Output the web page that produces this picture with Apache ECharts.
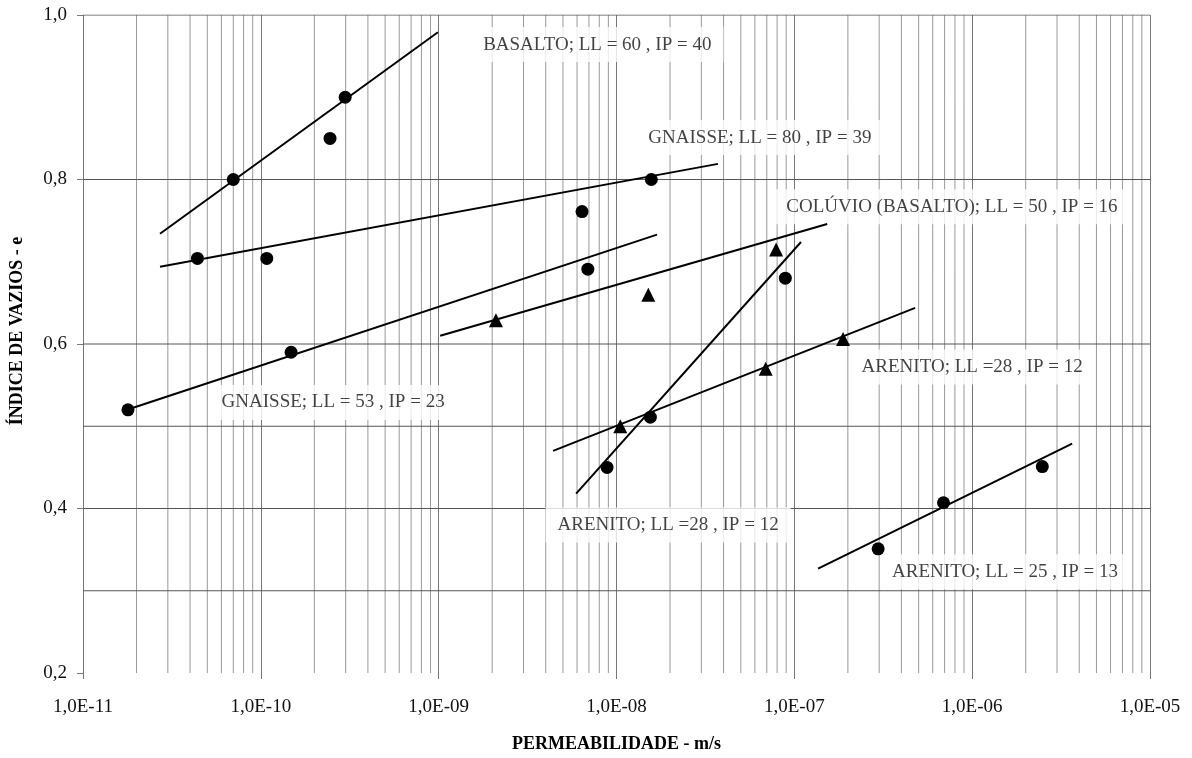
<!DOCTYPE html>
<html>
<head>
<meta charset="utf-8">
<script src="https://cdn.jsdelivr.net/npm/echarts@6/dist/echarts.min.js"></script>
<style>
html,body{margin:0;padding:0;background:#fff;}
#chart{width:1192px;height:758px;}
</style>
</head>
<body>
<div id="chart"></div>
<script>
// ---- data ----
const circlePoints = [
  [7.0e-11, 0.80], [2.98e-10, 0.90], [2.45e-10, 0.85],
  [4.4e-11, 0.704], [1.08e-10, 0.704],
  [6.4e-9, 0.761], [1.57e-8, 0.80],
  [6.9e-9, 0.691], [8.9e-8, 0.680],
  [1.48e-10, 0.590], [1.79e-11, 0.520],
  [8.85e-9, 0.450], [1.55e-8, 0.511],
  [2.96e-7, 0.351], [6.9e-7, 0.407], [2.48e-6, 0.451]
];
const trianglePoints = [
  [2.1e-9, 0.629], [1.51e-8, 0.660], [7.9e-8, 0.715],
  [1.05e-8, 0.500], [6.9e-8, 0.570], [1.88e-7, 0.606]
];
const basaltoLine   = [[2.71e-11, 0.734], [9.9e-10, 0.979]];
const gnaisse80Line = [[2.71e-11, 0.694], [3.72e-8, 0.819]];
const gnaisse53Line = [[1.77e-11, 0.520], [1.69e-8, 0.733]];
const coluvioLine   = [[1.02e-9, 0.610], [1.53e-7, 0.746]];
const arenitoSteepLine = [[5.93e-9, 0.418], [1.09e-7, 0.724]];
const arenito28Line = [[4.4e-9, 0.470], [4.78e-7, 0.644]];
const arenito25Line = [[1.36e-7, 0.327], [3.65e-6, 0.479]];

const annotationTexts = [
  'BASALTO; LL = 60 , IP = 40',
  'GNAISSE; LL = 80 , IP = 39',
  'COLÚVIO (BASALTO); LL = 50 , IP = 16',
  'ARENITO; LL =28 , IP = 12',
  'GNAISSE; LL = 53 , IP = 23',
  'ARENITO; LL =28 , IP = 12',
  'ARENITO; LL = 25 , IP = 13'
];
const annotationAnchors = [
  [7.8e-9, 0.964], [6.4e-8, 0.851], [7.7e-7, 0.767], [1.0e-6, 0.572],
  [2.55e-10, 0.529], [1.95e-8, 0.380], [1.53e-6, 0.323]
];

const xDecades = [1e-11, 1e-10, 1e-9, 1e-8, 1e-7, 1e-6, 1e-5];
const minorMultipliers = [2, 3, 4, 5, 6, 7, 8, 9];
const yGridValues = [0.3, 0.4, 0.5, 0.6, 0.8, 1.0];
const yRange = [0.2, 1.0];

// ---- build ----
const FONT = '"Liberation Serif", "DejaVu Serif", serif';
const minorX = [];
xDecades.slice(0, -1).forEach(d => minorMultipliers.forEach(m => minorX.push(m * d)));

const minorGridSeries = minorX.map(v => ({
  type: 'line', data: [[v, yRange[0]], [v, yRange[1]]], symbol: 'none', z: 1, silent: true,
  lineStyle: {color: '#999', width: 1}
}));
const hGridSeries = yGridValues.map(v => ({
  type: 'line', data: [[xDecades[0], v], [xDecades[xDecades.length - 1], v]], symbol: 'none', z: 1, silent: true,
  lineStyle: {color: '#555', width: 1}
}));

const lineSeries = [basaltoLine, gnaisse80Line, gnaisse53Line, coluvioLine,
  arenitoSteepLine, arenito28Line, arenito25Line].map(d => ({
  type: 'line', data: d, symbol: 'none', z: 5, silent: true,
  lineStyle: {color: '#000', width: 2}
}));

const option = {
  backgroundColor: '#fff',
  animation: false,
  grid: {left: 83, right: 42, top: 15, bottom: 81},
  xAxis: {
    type: 'log', logBase: 10, min: 1e-11, max: 1e-5,
    name: 'PERMEABILIDADE - m/s', nameLocation: 'middle', nameGap: 62,
    nameTextStyle: {fontFamily: FONT, fontWeight: 'bold', fontSize: 18, color: '#000'},
    axisLine: {show: false},
    axisTick: {show: true, length: 6, lineStyle: {color: '#777'}},
    axisLabel: {
      fontFamily: FONT, fontSize: 19, color: '#111', margin: 25,
      formatter: v => {
        const e = Math.round(Math.log10(v));
        const a = Math.abs(e);
        return '1,0E-' + (a < 10 ? '0' + a : a);
      }
    },
    splitLine: {show: true, lineStyle: {color: '#777', width: 1}}
  },
  yAxis: {
    type: 'value', min: 0.2, max: 1.0, interval: 0.2,
    name: 'ÍNDICE DE VAZIOS - e', nameLocation: 'middle', nameGap: 57,
    nameTextStyle: {fontFamily: FONT, fontWeight: 'bold', fontSize: 18, color: '#000', padding: [0, 0, 0, 26]},
    axisLine: {show: false},
    axisTick: {show: true, length: 6, lineStyle: {color: '#777'}},
    axisLabel: {
      fontFamily: FONT, fontSize: 19, color: '#111', margin: 16,
      formatter: v => v.toFixed(1).replace('.', ',')
    },
    splitLine: {show: false}
  },
  series: [
    ...minorGridSeries,
    ...hGridSeries,
    ...lineSeries,
    {
      type: 'scatter', data: circlePoints, symbol: 'circle', symbolSize: 13, z: 6,
      itemStyle: {color: '#000', opacity: 1}
    },
    {
      type: 'scatter', data: trianglePoints, symbol: 'triangle', symbolSize: 14, z: 6,
      itemStyle: {color: '#000', opacity: 1}
    },
    {
      type: 'scatter', z: 4, silent: true, symbolSize: 0,
      data: annotationAnchors.map((p, i) => ({value: p, name: annotationTexts[i]})),
      label: {
        show: true, position: 'inside', formatter: p => p.name,
        fontFamily: FONT, fontSize: 19, color: '#111',
        backgroundColor: '#fff', padding: [8, 12, 8, 12]
      }
    }
  ]
};

const chart = echarts.init(document.getElementById('chart'), null, {renderer: 'canvas'});
chart.setOption(option);
</script>
</body>
</html>
